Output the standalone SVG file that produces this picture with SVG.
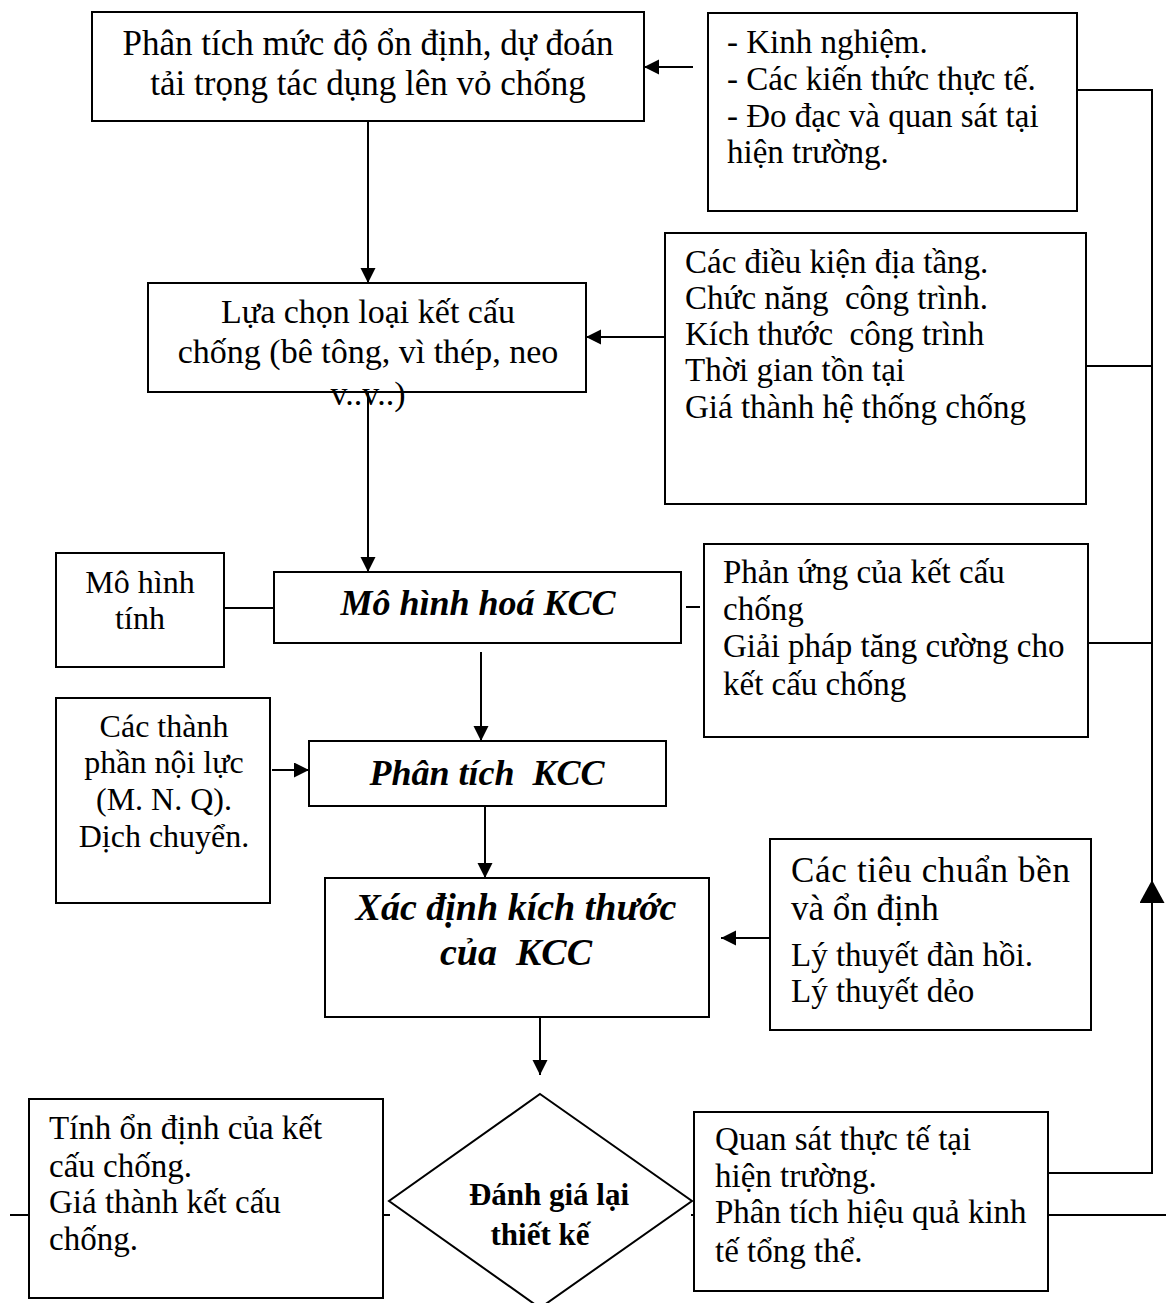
<svg xmlns="http://www.w3.org/2000/svg" width="1166" height="1303" viewBox="0 0 1166 1303">
  <style>
    .box { fill: #ffffff; stroke: #000000; stroke-width: 2; }
    .line { fill: none; stroke: #000000; stroke-width: 2; }
    text { font-family: "Liberation Serif", "Times New Roman", serif; fill: #000000; white-space: pre; }
    .c { text-anchor: middle; font-size: 34px; }
    .l { font-size: 33px; }
    .bi { font-weight: bold; font-style: italic; font-size: 36px; text-anchor: middle; }
    .b { font-weight: bold; font-size: 31px; text-anchor: middle; }
  </style>
  <defs>
    <marker id="arrow" markerUnits="userSpaceOnUse" markerWidth="16" markerHeight="16" refX="15" refY="7.5" orient="auto">
      <path d="M0,0 L15,7.5 L0,15 Z" fill="#000000"/>
    </marker>
    <marker id="bigArrow" markerUnits="userSpaceOnUse" markerWidth="24" markerHeight="26" refX="23" refY="12.5" orient="auto">
      <path d="M0,0 L23,12.5 L0,25 Z" fill="#000000"/>
    </marker>
  </defs>

  <!-- connectors -->
  <g id="connectors">
    <path class="line" d="M693,67 H644" marker-end="url(#arrow)"/>
    <path class="line" d="M368,121 V283" marker-end="url(#arrow)"/>
    <path class="line" d="M665,337 H586" marker-end="url(#arrow)"/>
    <path class="line" d="M368,392 V572" marker-end="url(#arrow)"/>
    <path class="line" d="M224,608 H274"/>
    <path class="line" d="M686,607 H700"/>
    <path class="line" d="M481,652 V741" marker-end="url(#arrow)"/>
    <path class="line" d="M272,770 H309" marker-end="url(#arrow)"/>
    <path class="line" d="M485,806 V878" marker-end="url(#arrow)"/>
    <path class="line" d="M770,938 H721" marker-end="url(#arrow)"/>
    <path class="line" d="M540,1017 V1075" marker-end="url(#arrow)"/>
    <!-- feedback bus on the right -->
    <path class="line" d="M1048,1173 H1152 V880" marker-end="url(#bigArrow)"/>
    <path class="line" d="M1152,882 V90 H1077"/>
    <path class="line" d="M1086,366 H1152"/>
    <path class="line" d="M1088,643 H1152"/>
    <!-- bottom row links -->
    <path class="line" d="M10,1215 H29"/>
    <path class="line" d="M383,1215 H390"/>
    <path class="line" d="M691,1215 H694"/>
    <path class="line" d="M1048,1215 H1166"/>
  </g>

  <g id="node-stability">
    <rect class="box" x="92" y="12" width="552" height="109"/>
    <text class="c" x="368" y="55" style="font-size:35px">Phân tích mức độ ổn định, dự đoán</text>
    <text class="c" x="368" y="95" style="font-size:35px">tải trọng tác dụng lên vỏ chống</text>
  </g>

  <g id="node-experience">
    <rect class="box" x="708" y="13" width="369" height="198"/>
    <text class="l" x="727" y="53">- Kinh nghiệm.</text>
    <text class="l" x="727" y="90">- Các kiến thức thực tế.</text>
    <text class="l" x="727" y="127">- Đo đạc và quan sát tại</text>
    <text class="l" x="727" y="163">hiện trường.</text>
  </g>

  <g id="node-conditions">
    <rect class="box" x="665" y="233" width="421" height="271"/>
    <text class="l" x="685" y="273">Các điều kiện địa tầng.</text>
    <text class="l" x="685" y="309">Chức năng  công trình.</text>
    <text class="l" x="685" y="345">Kích thước  công trình</text>
    <text class="l" x="685" y="381">Thời gian tồn tại</text>
    <text class="l" x="685" y="418">Giá thành hệ thống chống</text>
  </g>

  <g id="node-select">
    <rect class="box" x="148" y="283" width="438" height="109"/>
    <text class="c" x="368" y="323">Lựa chọn loại kết cấu</text>
    <text class="c" x="368" y="363">chống (bê tông, vì thép, neo</text>
    <text class="c" x="368" y="405">v..v..)</text>
  </g>

  <g id="node-model">
    <rect class="box" x="56" y="553" width="168" height="114"/>
    <text class="c" x="140" y="593" style="font-size:32px">Mô hình</text>
    <text class="c" x="140" y="629" style="font-size:32px">tính</text>
  </g>

  <g id="node-modelling">
    <rect class="box" x="274" y="572" width="407" height="71"/>
    <text class="bi" x="478" y="615">Mô hình hoá KCC</text>
  </g>

  <g id="node-response">
    <rect class="box" x="704" y="544" width="384" height="193"/>
    <text class="l" x="723" y="583">Phản ứng của kết cấu</text>
    <text class="l" x="723" y="620">chống</text>
    <text class="l" x="723" y="657">Giải pháp tăng cường cho</text>
    <text class="l" x="723" y="695">kết cấu chống</text>
  </g>

  <g id="node-forces">
    <rect class="box" x="56" y="698" width="214" height="205"/>
    <text class="c" x="164" y="737" style="font-size:32px">Các thành</text>
    <text class="c" x="164" y="773" style="font-size:32px">phần nội lực</text>
    <text class="c" x="164" y="810" style="font-size:32px">(M. N. Q).</text>
    <text class="c" x="164" y="847" style="font-size:32px">Dịch chuyển.</text>
  </g>

  <g id="node-analysis">
    <rect class="box" x="309" y="741" width="357" height="65"/>
    <text class="bi" x="487" y="785">Phân tích  KCC</text>
  </g>

  <g id="node-sizing">
    <rect class="box" x="325" y="878" width="384" height="139"/>
    <text class="bi" x="516" y="920" style="font-size:38px">Xác định kích thước</text>
    <text class="bi" x="516" y="965" style="font-size:38px">của  KCC</text>
  </g>

  <g id="node-criteria">
    <rect class="box" x="770" y="839" width="321" height="191"/>
    <text class="l" x="791" y="882" style="font-size:35px" textLength="279" lengthAdjust="spacing">Các tiêu chuẩn bền</text>
    <text class="l" x="791" y="920" style="font-size:35px">và ổn định</text>
    <text class="l" x="791" y="966">Lý thuyết đàn hồi.</text>
    <text class="l" x="791" y="1002">Lý thuyết dẻo</text>
  </g>

  <g id="node-review">
    <polygon class="box" points="540,1094 692,1201 540,1308 389,1201"/>
    <text class="b" x="549" y="1205">Đánh giá lại</text>
    <text class="b" x="540" y="1245">thiết kế</text>
  </g>

  <g id="node-cost">
    <rect class="box" x="29" y="1099" width="354" height="199"/>
    <text class="l" x="49" y="1139">Tính ổn định của kết</text>
    <text class="l" x="49" y="1177">cấu chống.</text>
    <text class="l" x="49" y="1213">Giá thành kết cấu</text>
    <text class="l" x="49" y="1250">chống.</text>
  </g>

  <g id="node-observation">
    <rect class="box" x="694" y="1112" width="354" height="179"/>
    <text class="l" x="715" y="1150">Quan sát thực tế tại</text>
    <text class="l" x="715" y="1187">hiện trường.</text>
    <text class="l" x="715" y="1223">Phân tích hiệu quả kinh</text>
    <text class="l" x="715" y="1262">tế tổng thể.</text>
  </g>
</svg>
